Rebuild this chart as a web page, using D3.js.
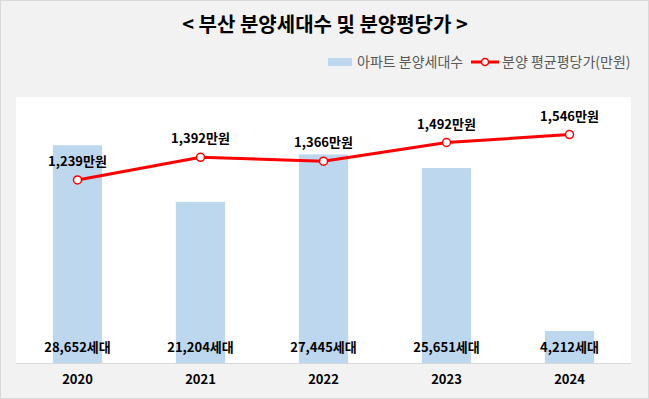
<!DOCTYPE html>
<html>
<head>
<meta charset="utf-8">
<script src="https://cdn.jsdelivr.net/npm/d3@7"></script>
<style>
  body { margin: 0; background: #fff; }
  text { font-family: "Noto Sans CJK KR", "Malgun Gothic", sans-serif; }
</style>
</head>
<body>
<div class="canvas"></div>
<script>
const years = ['2020', '2021', '2022', '2023', '2024'];
const units = [28652, 21204, 27445, 25651, 4212];
const prices = [1239, 1392, 1366, 1492, 1546];

const width = 649;
const height = 399;
const plot = { left: 16, right: 631, top: 97, bottom: 363 };

const svg = d3.select('.canvas')
    .append('svg')
    .attr('width', width)
    .attr('height', height)
;

// background + frame
svg.append('rect')
    .attr('x', 0.5).attr('y', 0.5)
    .attr('width', width - 1).attr('height', height - 1)
    .attr('fill', '#f2f2f2')
    .attr('stroke', '#d9d9d9')
;
svg.append('rect')
    .attr('x', plot.left).attr('y', plot.top)
    .attr('width', plot.right - plot.left).attr('height', plot.bottom - plot.top)
    .attr('fill', '#ffffff')
;

// title
svg.append('text')
    .attr('x', 325).attr('y', 32)
    .attr('text-anchor', 'middle')
    .attr('font-size', 20).attr('font-weight', 'bold')
    .attr('fill', '#000')
    .text('< 부산 분양세대수 및 분양평당가 >')
;

// legend
const legend = svg.append('g');
legend.append('rect')
    .attr('x', 328).attr('y', 58).attr('width', 24).attr('height', 8)
    .attr('fill', '#bdd7ee');
legend.append('text')
    .attr('x', 357).attr('y', 67)
    .attr('font-size', 14).attr('fill', '#595959')
    .text('아파트 분양세대수');
legend.append('line')
    .attr('x1', 471).attr('x2', 499).attr('y1', 62).attr('y2', 62)
    .attr('stroke', '#ff0000').attr('stroke-width', 3);
legend.append('circle')
    .attr('cx', 485).attr('cy', 62).attr('r', 3.5)
    .attr('fill', '#fff').attr('stroke', '#ff0000').attr('stroke-width', 1.5);
legend.append('text')
    .attr('x', 502).attr('y', 67)
    .attr('font-size', 14).attr('fill', '#595959')
    .text('분양 평균평당가(만원)');

// scales
const x = d3.scaleBand().domain(years).range([plot.left, plot.right]).paddingInner(0.6).paddingOuter(0.3);
const yBar = d3.scaleLinear().domain([0, 35000]).range([plot.bottom, plot.top]);
const yLine = d3.scaleLinear().domain([0, 1800]).range([plot.bottom, plot.top]);
const cx = d => x(d) + x.bandwidth() / 2;

// bars
svg.selectAll('rect.bar')
    .data(units)
    .enter()
    .append('rect')
        .attr('class', 'bar')
        .attr('x', (v, i) => x(years[i]))
        .attr('y', v => yBar(v))
        .attr('width', x.bandwidth())
        .attr('height', v => plot.bottom - yBar(v))
        .attr('fill', '#bdd7ee')
;

// baseline
svg.append('line')
    .attr('x1', plot.left).attr('x2', plot.right)
    .attr('y1', plot.bottom + 0.5).attr('y2', plot.bottom + 0.5)
    .attr('stroke', '#d9d9d9')
;

// x axis
const xAxis = d3.axisBottom(x).tickSize(0).tickPadding(12);
const xAxisGroup = svg.append('g')
    .attr('transform', `translate(0, ${plot.bottom})`)
    .call(xAxis)
;
xAxisGroup.select('.domain').remove();
xAxisGroup.selectAll('text')
    .attr('font-size', 13).attr('font-weight', 'bold').attr('fill', '#000')
    .attr('font-family', '"Noto Sans CJK KR", sans-serif')
;

// bar labels
svg.selectAll('text.unit')
    .data(units)
    .enter()
    .append('text')
        .attr('class', 'unit')
        .attr('x', (v, i) => cx(years[i]))
        .attr('y', 352)
        .attr('text-anchor', 'middle')
        .attr('font-size', 13).attr('font-weight', 'bold').attr('fill', '#000')
        .text(v => d3.format(',')(v) + '세대')
;

// price line
const line = d3.line()
    .x((v, i) => cx(years[i]))
    .y(v => yLine(v))
;
svg.append('path')
    .datum(prices)
    .attr('fill', 'none')
    .attr('stroke', '#ff0000')
    .attr('stroke-width', 3)
    .attr('d', line)
;
svg.selectAll('circle.pt')
    .data(prices)
    .enter()
    .append('circle')
        .attr('class', 'pt')
        .attr('cx', (v, i) => cx(years[i]))
        .attr('cy', v => yLine(v))
        .attr('r', 4)
        .attr('fill', '#fff')
        .attr('stroke', '#ff0000')
        .attr('stroke-width', 1.5)
;
svg.selectAll('text.price')
    .data(prices)
    .enter()
    .append('text')
        .attr('class', 'price')
        .attr('x', (v, i) => cx(years[i]))
        .attr('y', v => yLine(v) - 14)
        .attr('text-anchor', 'middle')
        .attr('font-size', 13).attr('font-weight', 'bold').attr('fill', '#000')
        .text(v => d3.format(',')(v) + '만원')
;
</script>
</body>
</html>
